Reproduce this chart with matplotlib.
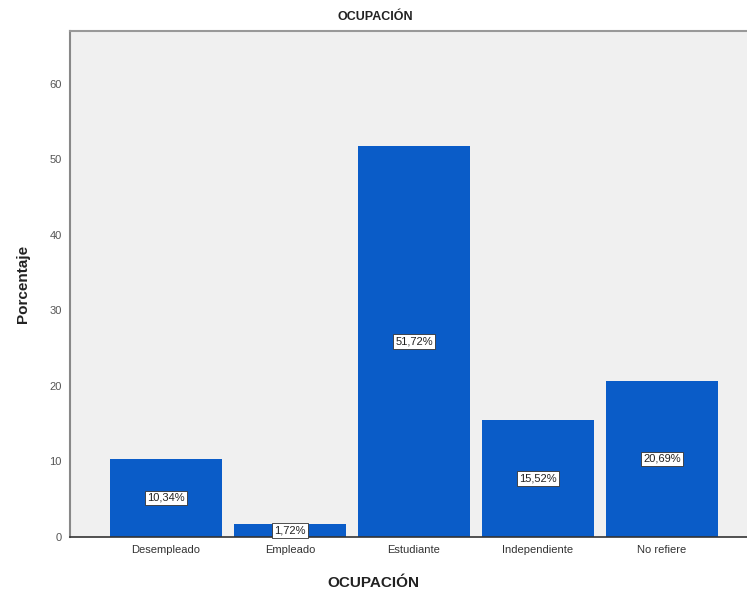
import matplotlib
matplotlib.use("Agg")
import matplotlib.pyplot as plt

categories = ["Desempleado", "Empleado", "Estudiante", "Independiente", "No refiere"]
values = [10.34, 1.72, 51.72, 15.52, 20.69]
labels = ["10,34%", "1,72%", "51,72%", "15,52%", "20,69%"]
yticks = [0, 10, 20, 30, 40, 50, 60]

plt.rcParams['font.family'] = ['Liberation Sans', 'DejaVu Sans']

fig = plt.figure(figsize=(7.47, 5.97), dpi=100)
ax = fig.add_axes([70/747, 60/597, 1 - 70/747, (537-31)/597])
ax.set_facecolor('#F0F0F0')

x = list(range(len(categories)))
ax.bar(x, values, width=0.9, color='#0A5CC8', zorder=2)
for xi, v, lab in zip(x, values, labels):
    ax.text(xi, v / 2, lab, ha='center', va='center', fontsize=8, color='#222222',
            bbox=dict(boxstyle='square,pad=0.2', facecolor='white', edgecolor='#333333', linewidth=0.6),
            zorder=3)

ax.set_xlim(-0.774, 4.685)
ax.set_ylim(0, 67)
ax.set_yticks(yticks)
ax.set_xticks(x)
ax.set_xticklabels(categories)
ax.tick_params(axis='both', length=0, labelsize=8, colors='#333333', pad=6)
ax.tick_params(axis='y', colors='#555555')

ax.spines['right'].set_visible(False)
ax.spines['left'].set_color('#888888')
ax.spines['top'].set_color('#999999')
ax.spines['top'].set_linewidth(1.5)
ax.spines['left'].set_linewidth(1.5)
ax.spines['bottom'].set_color('#333333')
ax.spines['bottom'].set_linewidth(1.2)

ax.set_ylabel("Porcentaje", fontsize=11, fontweight='bold', labelpad=14, color='#222222')
ax.set_xlabel("OCUPACIÓN", fontsize=11, fontweight='bold', labelpad=16, color='#222222')
ax.xaxis.set_label_coords((373 - 70) / 677, -0.078)
fig.text(375/747, (597-17)/597, "OCUPACIÓN", ha='center', va='center',
         fontsize=9, fontweight='bold', color='#222222')

fig.savefig("out.png", dpi=100)
